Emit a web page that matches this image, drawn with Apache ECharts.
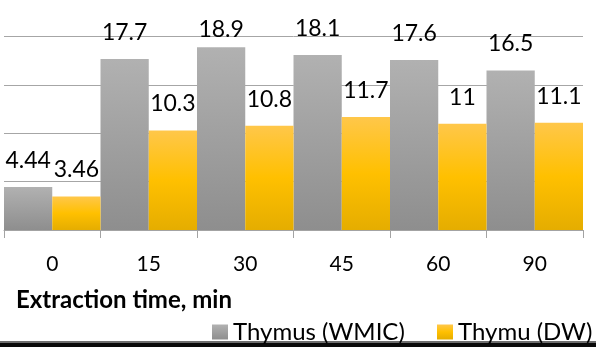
<!DOCTYPE html>
<html>
<head>
<meta charset="utf-8">
<script src="https://cdn.jsdelivr.net/npm/echarts@6/dist/echarts.min.js"></script>
<style>
  html, body { margin: 0; padding: 0; background: #fff; }
  #chart { width: 596px; height: 347px; }
</style>
</head>
<body>
<div id="chart"></div>
<script>
// Extraction time (minutes) and measured values for the two extracts
const categories = ['0', '15', '30', '45', '60', '90'];
const wmicValues = [4.44, 17.7, 18.9, 18.1, 17.6, 16.5];
const dwValues = [3.46, 10.3, 10.8, 11.7, 11, 11.1];
const seriesNames = ['Thymus (WMIC)', 'Thymu (DW)'];
const axisTitle = 'Extraction time, min';

const FONT = 'Lato, "Open Sans", sans-serif';

const grayFill = new echarts.graphic.LinearGradient(0, 0, 0, 1, [
  { offset: 0, color: '#b1b1b1' },
  { offset: 1, color: '#8e8e8e' }
]);
const yellowFill = new echarts.graphic.LinearGradient(0, 0, 0, 1, [
  { offset: 0, color: '#ffc74a' },
  { offset: 0.5, color: '#ffc000' },
  { offset: 1, color: '#e5ad00' }
]);

const label = {
  show: true,
  position: 'top',
  distance: 15,
  color: '#000',
  fontFamily: FONT,
  fontSize: 23
};

// The tallest bar's label is tucked closer so it stays inside the frame
const maxIdx = wmicValues.indexOf(Math.max(...wmicValues));
const wmicData = wmicValues.map((v, i) =>
  i === maxIdx ? { value: v, label: { distance: 6 } } : v
);

const legendText = { fontFamily: FONT, fontSize: 24, color: '#000' };

const chart = echarts.init(document.getElementById('chart'), null, { renderer: 'canvas' });
chart.setOption({
  animation: false,
  backgroundColor: '#fff',
  grid: { left: 4, right: 13, top: 0, bottom: 117, containLabel: false },
  title: {
    text: axisTitle,
    left: 11,
    top: 283,
    textStyle: { fontFamily: FONT, fontWeight: 'bold', fontSize: 24, color: '#000' }
  },
  legend: [
    {
      left: 207, top: 315, itemWidth: 16, itemHeight: 15, icon: 'rect',
      textStyle: legendText, data: [seriesNames[0]]
    },
    {
      left: 432, top: 315, itemWidth: 16, itemHeight: 15, icon: 'rect',
      textStyle: legendText, data: [seriesNames[1]]
    }
  ],
  xAxis: {
    type: 'category',
    data: categories,
    axisLine: { lineStyle: { color: '#a3a3a3', width: 1 } },
    axisTick: { show: true, length: 8, lineStyle: { color: '#a3a3a3' } },
    axisLabel: { color: '#000', fontFamily: FONT, fontSize: 21, margin: 24 }
  },
  yAxis: {
    type: 'value',
    min: 0,
    max: 23.8,
    interval: 5,
    axisLabel: { show: false },
    axisLine: { show: false },
    axisTick: { show: false },
    splitLine: { showMaxLine: false, lineStyle: { color: '#a6a6a6', width: 1 } }
  },
  series: [
    {
      name: seriesNames[0],
      type: 'bar',
      data: wmicData,
      barGap: '0%',
      barCategoryGap: '0%',
      itemStyle: { color: grayFill },
      label: label
    },
    {
      name: seriesNames[1],
      type: 'bar',
      data: dwValues,
      barGap: '0%',
      barCategoryGap: '0%',
      itemStyle: { color: yellowFill },
      label: label
    }
  ],
  graphic: [
    { type: 'rect', left: 0, top: 341, shape: { width: 596, height: 2 }, style: { fill: '#6e6e6e' }, silent: true },
    { type: 'rect', left: 0, top: 343, shape: { width: 596, height: 4 }, style: { fill: '#0a0a0a' }, silent: true }
  ]
});
</script>
</body>
</html>
